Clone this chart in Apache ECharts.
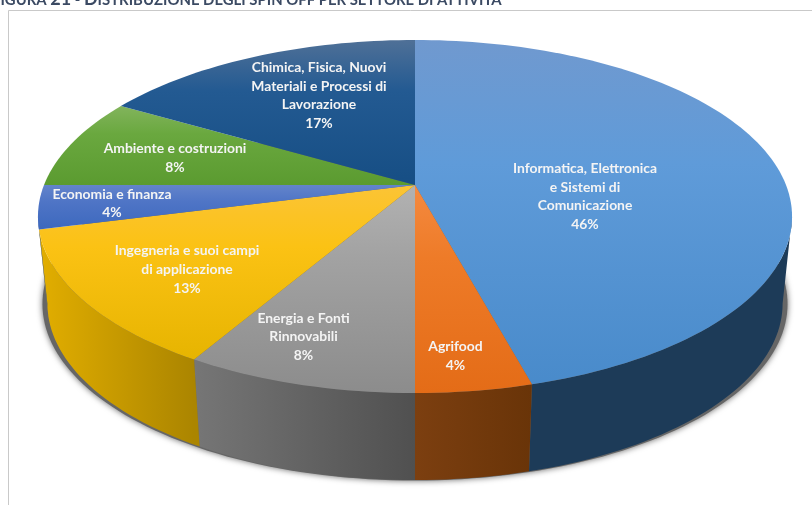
<!DOCTYPE html>
<html><head><meta charset="utf-8">
<style>html,body{margin:0;padding:0;background:#fff}#c{width:812px;height:505px}</style>
<script src="https://cdn.jsdelivr.net/npm/echarts@6/dist/echarts.min.js"></script>
</head><body><div id="c"></div>
<script>
const categories = [
  "Informatica, Elettronica\ne Sistemi di\nComunicazione",
  "Agrifood",
  "Energia e Fonti\nRinnovabili",
  "Ingegneria e suoi campi\ndi applicazione",
  "Economia e finanza",
  "Ambiente e costruzioni",
  "Chimica, Fisica, Nuovi\nMateriali e Processi di\nLavorazione"
];
const shares = [45.8, 4.2, 8.4, 12.6, 4, 8.4, 16.6];
const labelCentres = [[585,196.5],[455.5,356],[303.5,337],[187,269.5],[112,203.5],[175,158],[319,95.5]];
const topBands = [[40,393],[185,393],[185,393],[185,362],[185,232],[106,185],[40,185]];
const topColours = [
  ["#7099cf","#5f9bd9","#488aca"],["#f48a40","#ee7b28","#e46c17"],["#b2b2b2","#a2a2a2","#8c8c8c"],
  ["#fbc436","#fbc214","#e6b400"],["#6384cb","#4f75c6","#3b67bd"],["#82b45c","#6aa83f","#5b9b30"],
  ["#4f7097","#235a92","#164e84"]
];
const wallColours = [
  ["#1d3b58","#1d3b58"],["#7c3f10","#693408"],["#767676","#505050"],["#e2ae00","#ab8500"],
  ["#2f4f90","#2f4f90"],["#3c6a20","#3c6a20"],["#123a60","#123a60"]
];
const titleParts = ["FIGURA ","21"," - ","D","ISTRIBUZIONE DEGLI SPIN OFF PER SETTORE DI ATTIVITÀ"];

// perspective view of the round pie
const apex = [415,185], R = [371,170.9], k = 0.1785, depth = 87, shrink = 0.975;
const edgeDeg = 100.3;
function project(deg){
  const t = deg*Math.PI/180, u = Math.sin(t), v = -Math.cos(t), w = 1-k*v;
  return [apex[0]+R[0]*u/w, apex[1]+R[1]*v/w];
}
function lower(p){ return [apex[0]+(p[0]-apex[0])*shrink, p[1]+depth]; }
function arc(a,b){ const out=[], n=Math.max(2,Math.ceil(Math.abs(b-a)/1.5)); for(let i=0;i<=n;i++) out.push(project(a+(b-a)*i/n)); return out; }
function grad(x,y,x2,y2,cols){
  return {type:'linear',x,y,x2,y2,global:true,colorStops:cols.map((c,j)=>({offset:cols.length===3?[0,0.35,1][j]:j,color:c}))};
}

const total = shares.reduce((a,b)=>a+b,0);
let sum = 0;
const seriesData = shares.map((s,i)=>{ const st=sum; sum+=s; return {value:[st,s,i],name:categories[i]}; });

function renderSide(params,api){
  const st=api.value(0), sv=api.value(1), i=api.value(2);
  const a=Math.max(st/total*360,edgeDeg), b=Math.min((st+sv)/total*360,360-edgeDeg);
  if(b<=a) return {type:'group',children:[]};
  const top=arc(a,b), bot=top.map(lower).reverse();
  const xs=top.map(p=>p[0]);
  return {type:'polygon',shape:{points:top.concat(bot)},
    style:{fill:grad(Math.min.apply(null,xs),0,Math.max.apply(null,xs),0,wallColours[i])},silent:true};
}
function renderTop(params,api){
  const st=api.value(0), sv=api.value(1), i=api.value(2);
  const a=st/total*360, b=(st+sv)/total*360;
  const pts=[apex].concat(arc(a,b));
  return {type:'polygon',shape:{points:pts},
    style:{fill:grad(0,topBands[i][0],0,topBands[i][1],topColours[i])},silent:true};
}
function renderLabel(params,api){
  const sv=api.value(1), i=api.value(2);
  const c=labelCentres[i];
  return {type:'text',x:c[0],y:c[1],silent:true,
    style:{text:categories[i]+"\n"+Math.round(sv/total*100)+"%",
      fill:"#f4f4f4",font:"700 13.9px Lato, sans-serif",lineHeight:18.6,
      align:"center",verticalAlign:"middle"}};
}
const shadowPts = arc(0,360).map(p=>[apex[0]+(p[0]-apex[0])*0.988,p[1]+depth+0.5]);

const chart = echarts.init(document.getElementById('c'),null,{renderer:'canvas'});
chart.setOption({
  animation:false,
  backgroundColor:"#ffffff",
  graphic:[
    {type:'rect',z:0,shape:{x:8.5,y:10.5,width:900,height:600},style:{fill:"#fff",stroke:"#c9c9c9",lineWidth:1},silent:true},
    {type:'polygon',z:1,shape:{points:shadowPts},style:{fill:"#666666",shadowBlur:6,shadowColor:"rgba(0,0,0,0.6)"},silent:true},
    {type:'text',z:10,x:-8,y:-10,silent:true,style:{
      text:"{s|"+titleParts[0]+"}{l|"+titleParts[1]+"}{s|"+titleParts[2]+"}{l|"+titleParts[3]+"}{s|"+titleParts[4]+"}",
      rich:{s:{font:"700 14.9px Lato, sans-serif",fill:"#3b4a63",verticalAlign:"bottom"},l:{font:"700 18px Lato, sans-serif",fill:"#3b4a63",verticalAlign:"bottom"}},
      align:"left",verticalAlign:"top"}}
  ],
  series:[
    {type:'custom',coordinateSystem:'none',z:2,renderItem:renderSide,data:seriesData,clip:false},
    {type:'custom',coordinateSystem:'none',z:3,renderItem:renderTop,data:seriesData,clip:false},
    {type:'custom',coordinateSystem:'none',z:4,renderItem:renderLabel,data:seriesData,clip:false}
  ]
});
</script></body></html>
